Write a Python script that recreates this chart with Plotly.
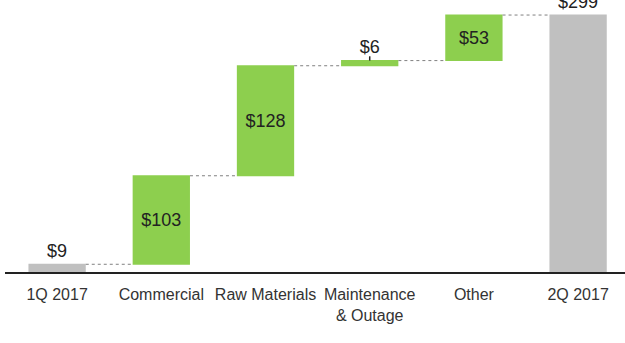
import plotly.graph_objects as go

# EBITDA bridge, $ in millions
categories = ["1Q 2017", "Commercial", "Raw Materials", "Maintenance<br>& Outage", "Other", "2Q 2017"]
values = [9, 103, 128, 6, 53, 0]
measures = ["absolute", "relative", "relative", "relative", "relative", "total"]
text_positions = ["outside", "inside", "inside", "outside", "inside", "outside"]

total = sum(values[:-1])
labels = [f"${v}" for v in values[:-1]] + [f"${total}"]

GREEN = "#8dcf4e"
GREY = "#c0c0c0"
FONT = "Liberation Sans, Arial, Helvetica, sans-serif"

fig = go.Figure(go.Waterfall(
    x=categories,
    y=values,
    measure=measures,
    text=labels,
    textposition=text_positions,
    insidetextanchor="middle",
    textfont=dict(family=FONT, size=18, color="#222222"),
    increasing=dict(marker=dict(color=GREEN)),
    decreasing=dict(marker=dict(color=GREEN)),
    totals=dict(marker=dict(color=GREY)),
    connector=dict(line=dict(color="#808080", width=1, dash="dot"), mode="between"),
    width=0.55,
    cliponaxis=False,
    hoverinfo="skip",
))

# small leader tick over the thin maintenance bar
cum = [sum(values[:i + 1]) for i in range(len(values) - 1)]
m_idx = 3
fig.add_shape(type="line", xref="x", yref="y",
              x0=m_idx, x1=m_idx, y0=cum[m_idx], y1=cum[m_idx] + 5,
              line=dict(color="#222222", width=1.5))

fig.update_layout(
    width=625, height=343,
    margin=dict(l=5, r=0, t=0, b=71),
    paper_bgcolor="white", plot_bgcolor="white",
    showlegend=False,
    font=dict(family=FONT, color="#333333"),
)
fig.update_xaxes(
    type="category",
    range=[-0.5, 5.45],
    showline=True, linecolor="#222222", linewidth=2,
    showgrid=False, ticks="",
    ticklabelstandoff=7,
    tickfont=dict(family=FONT, size=16, color="#333333"),
)
fig.update_yaxes(
    range=[0, 316.5],
    visible=False, showgrid=False, zeroline=False,
)

fig.write_html("out.html")
